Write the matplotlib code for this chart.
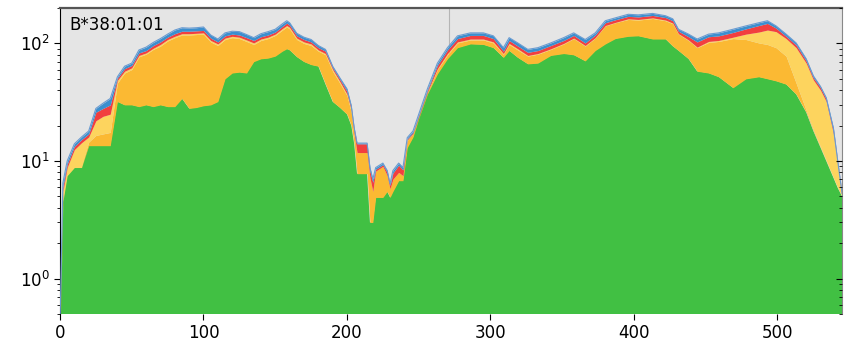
import numpy as np
import matplotlib.pyplot as plt

# position along the sequence
pos = [0, 2, 5, 10, 15, 20, 25, 30, 35, 40,
       45, 50, 55, 60, 65, 70, 75, 80, 85, 90,
       95, 100, 105, 110, 115, 120, 125, 130, 135, 140,
       145, 150, 155, 158, 160, 165, 170, 175, 180, 185,
       190, 195, 200, 203, 205, 207, 214, 216, 218, 220,
       225, 228, 230, 232, 236, 239, 242, 246, 250, 256,
       263, 270, 277, 286, 295, 302, 309, 313, 319, 326,
       333, 342, 351, 358, 366, 373, 380, 387, 396, 403,
       413, 422, 427, 431, 438, 444, 452, 459, 469, 478,
       487, 493, 499, 506, 513, 520, 525, 530, 534, 539,
       542, 545]

# stacked tops (cumulative)
green = [0.3, 4.5, 7.5, 8.8, 8.8, 13.5, 13.5, 13.5, 13.5, 32,
         30, 30, 29, 30, 29, 30, 29, 29, 34, 28,
         28.5, 29.5, 30, 32, 50, 56, 57, 56, 70, 74,
         75, 78, 86, 90, 88, 77, 70, 66, 64, 45,
         32, 28.5, 25, 20, 14, 7.8, 7.8, 3.0, 3.0, 4.9,
         4.9, 5.5, 4.9, 5.5, 6.8, 6.8, 13, 16, 23, 37,
         55, 74, 92, 99, 98, 92, 76, 87, 76, 67,
         68, 79, 82, 80, 71, 87, 99, 110, 115, 116,
         109, 109, 95, 87, 74, 58, 56, 52, 42, 50,
         52, 50, 48, 45, 37, 26, 18, 13, 10, 7.2,
         5.9, 5.0]
orange = [0.3, 4.5, 7.5, 8.8, 8.8, 14.5, 16.5, 17, 17.5, 46,
          56, 60, 77, 81, 89, 95, 105, 112, 118, 118,
          119, 120, 103, 96, 108, 112, 110, 104, 98, 106,
          110, 117, 130, 138, 133, 108, 100, 96, 86, 80,
          58, 46, 36, 26, 16.5, 11.8, 11.8, 7.2, 5.5, 8.2,
          9.0, 7.5, 5.8, 7.0, 8.0, 7.5, 15.0, 17.0, 23.5, 38,
          60, 80, 101, 107, 107, 101, 81, 98, 88, 78,
          81, 89, 99, 110, 95, 111, 141, 150, 160, 158,
          163, 156, 147, 120, 106, 92, 102, 104, 110, 108,
          101, 98, 92, 78, 46, 27, 18.5, 13.2, 10.1, 7.2,
          5.9, 5.0]
yellow = [0.35, 5.5, 8.8, 12.5, 14.3, 16, 22, 24, 25, 48.5,
          58, 62, 79, 83, 91, 98, 108, 115, 121, 121,
          122, 123, 106, 99, 111, 115, 113, 107, 101, 109,
          113, 120, 134, 142, 137, 111, 103, 99, 88, 82,
          60, 47.5, 37, 27, 17, 11.8, 11.8, 7.2, 5.5, 8.2,
          9.0, 7.5, 5.8, 7.0, 8.0, 7.5, 15.1, 17.1, 23.7, 38.5,
          61, 82, 103, 109, 109, 103, 82, 100, 90, 79,
          82, 90, 100, 111, 96, 112, 142, 151, 162, 160,
          165, 158, 149, 121, 107, 93, 104, 106, 113, 120,
          125, 130, 126, 110, 92, 68, 49, 40, 32, 17,
          9.5, 5.1]
red = [0.38, 6.0, 9.4, 13.3, 15.2, 17, 26, 28, 30, 50.5,
       61, 65, 83, 87, 96, 103, 113, 121, 127, 127,
       128, 129, 111, 103, 116, 120, 118, 112, 106, 114,
       118, 125, 140, 149, 143, 116, 108, 103, 92, 86,
       62, 49.5, 39, 28.5, 18.5, 14, 14, 8.2, 6.6, 8.5,
       9.3, 8.0, 6.2, 7.9, 9.2, 8.4, 15.4, 17.5, 24.3, 39.8,
       65, 88, 110, 117, 117, 110, 86, 106, 95, 84,
       87, 96, 106, 117, 101, 118, 150, 159, 170, 168,
       173, 166, 156, 127, 114, 103, 114, 116, 124, 133,
       142, 148, 135, 115, 97, 71, 51, 42, 33.5, 18,
       9.8, 5.2]
total = [0.4, 6.5, 10, 14, 16, 18, 28, 31, 34, 52,
         64, 68, 88, 93, 102, 110, 120, 130, 136, 135,
         136, 138, 118, 109, 123, 127, 126, 119, 112, 121,
         126, 132, 147, 156, 150, 122, 113, 108, 96, 89,
         64, 51, 41, 29.5, 19.2, 14.2, 14.2, 8.8, 7.0, 8.8,
         9.6, 8.3, 6.4, 8.3, 9.6, 8.8, 15.8, 18, 25, 41,
         68, 92, 116, 123, 123, 116, 92, 112, 101, 89,
         92, 101, 112, 123, 108, 123, 156, 165, 177, 175,
         180, 172, 162, 132, 120, 109, 120, 123, 132, 141,
         150, 156, 141, 120, 101, 74, 53, 43, 34.5, 19,
         10, 5.3]

colors = ['#41c043', '#fbb933', '#fdd45e', '#f23f3f', '#3b8fcf']

fig, ax = plt.subplots(figsize=(8.45, 3.5), dpi=100)
fig.subplots_adjust(left=0.071, right=0.9965, bottom=0.103, top=0.977)
ax.set_facecolor('#e5e5e5')

ax.axvline(271, color='#b5b5b5', lw=0.8, zorder=0.5)

levels = [np.full(len(pos), 1e-3), green, orange, yellow, red, total]
for i in range(5):
    ax.fill_between(pos, levels[i], levels[i + 1], color=colors[i], lw=0, zorder=2)
ax.plot(pos, total, color='#6a9bd1', lw=0.8, zorder=3)

ax.set_yscale('log')
ax.set_ylim(0.5, 200)
ax.set_xlim(0, 545)
ax.set_xticks([0, 100, 200, 300, 400, 500])

ax.text(0.012, 0.944, 'B*38:01:01', transform=ax.transAxes, fontsize=12,
        va='center', ha='left', zorder=5)

ax.tick_params(axis='both', which='major', labelsize=12, length=4)
ax.tick_params(axis='y', which='minor', length=2)

ax.spines['top'].set_color('#555555')
ax.spines['top'].set_linewidth(1.6)
ax.spines['bottom'].set_visible(False)
ax.spines['right'].set_color('#888888')
ax.spines['right'].set_linewidth(0.8)

ax2 = ax.twinx()
ax2.set_yscale('log')
ax2.set_ylim(0.5, 200)
for s in ax2.spines.values():
    s.set_visible(False)
ax2.tick_params(axis='y', which='both', direction='in', labelright=False)
ax2.tick_params(axis='y', which='major', length=4)
ax2.tick_params(axis='y', which='minor', length=2)

fig.savefig('out.png', dpi=100)
